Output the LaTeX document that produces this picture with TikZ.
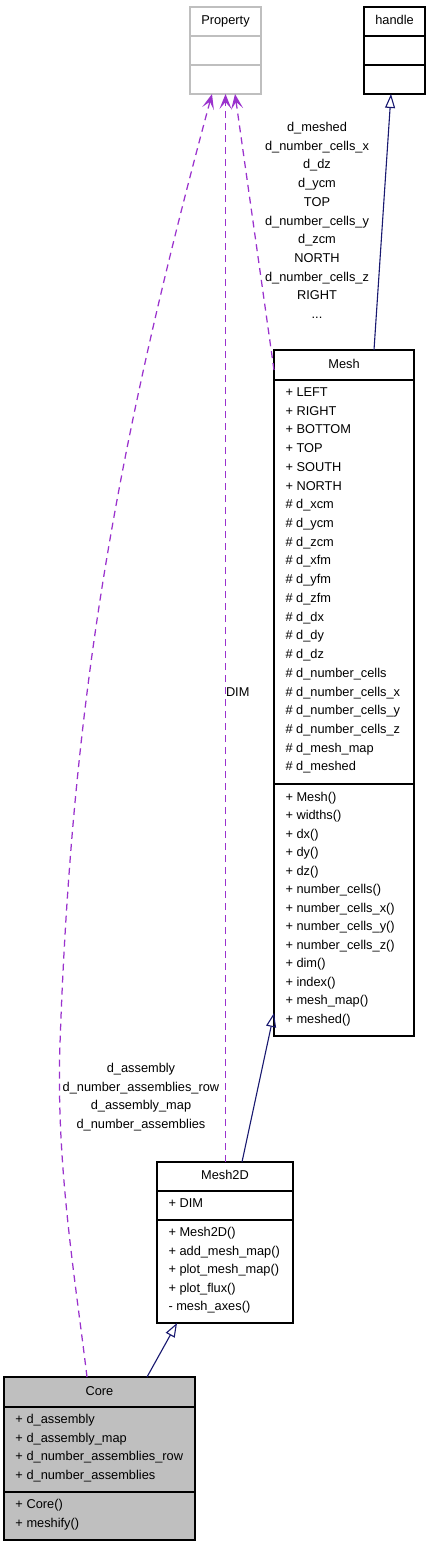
\documentclass[tikz,border=0pt]{standalone}
\usepackage{fontspec}
\setmainfont{Liberation Sans}
\usetikzlibrary{arrows.meta}
\definecolor{depc}{HTML}{9A32CD}
\definecolor{inhc}{HTML}{191970}
\definecolor{lgray}{HTML}{BFBFBF}
\newcommand\dgfont{\fontsize{12.8pt}{15pt}\selectfont}
\begin{document}
\begin{tikzpicture}[x=1pt,y=-1pt,
  sec/.style={draw, line width=1.1pt, inner sep=0pt, outer sep=0pt, anchor=north west},
  txt/.style={font=\dgfont, inner sep=0pt, outer sep=0pt, text=black},
  dep/.style={draw=depc, line width=1.25pt, dash pattern=on 7pt off 5pt,
    -{Stealth[length=15pt,width=12pt,inset=7pt]}},
  inh/.style={draw=inhc, line width=1.1pt, -{Triangle[open,length=14pt,width=10pt]}},
  sepline/.style={line width=1.7pt}]
\useasboundingbox (0,0) rectangle (429,1547);
% ---------- Property ----------
\node[sec, draw=lgray, minimum width=71pt, minimum height=29pt] (propT) at (190,7) {};
\node[sec, draw=lgray, minimum width=71pt, minimum height=29pt] (propA) at (190,36) {};
\node[sec, draw=lgray, minimum width=71pt, minimum height=29pt] (propM) at (190,65) {};
\node[txt, anchor=base] (propN) at (225.5,24.5) {Property};
% ---------- handle ----------
\node[sec, minimum width=61pt, minimum height=29pt] (hT) at (364,7) {};
\node[sec, minimum width=61pt, minimum height=29pt] (hA) at (364,36) {};
\node[sec, minimum width=61pt, minimum height=29pt] (hM) at (364,65) {};
\draw[sepline] (hT.south west) -- (hT.south east);
\draw[sepline] (hA.south west) -- (hA.south east);
\node[txt, anchor=base] (hN) at (394.5,24.5) {handle};
% ---------- Mesh ----------
\node[sec, minimum width=140pt, minimum height=30pt] (meshT) at (274,350) {};
\node[sec, minimum width=140pt, minimum height=404pt] (meshA) at (274,380) {};
\node[sec, minimum width=140pt, minimum height=252pt] (meshM) at (274,784) {};
\draw[sepline] (meshT.south west) -- (meshT.south east);
\draw[sepline] (meshA.south west) -- (meshA.south east);
\node[txt, anchor=base] (meshN) at (344,368) {Mesh};
\foreach \t [count=\i] in {+ LEFT,+ RIGHT,+ BOTTOM,+ TOP,+ SOUTH,+ NORTH,
  \# d\_xcm,\# d\_ycm,\# d\_zcm,\# d\_xfm,\# d\_yfm,\# d\_zfm,\# d\_dx,\# d\_dy,\# d\_dz,
  \# d\_number\_cells,\# d\_number\_cells\_x,\# d\_number\_cells\_y,\# d\_number\_cells\_z,
  \# d\_mesh\_map,\# d\_meshed}
  \node[txt, anchor=base west] (meshA\i) at (285.5,{396.5+18.72*(\i-1)}) {\t};
\foreach \t [count=\i] in {+ Mesh(),+ widths(),+ dx(),+ dy(),+ dz(),+ number\_cells(),
  + number\_cells\_x(),+ number\_cells\_y(),+ number\_cells\_z(),+ dim(),+ index(),
  + mesh\_map(),+ meshed()}
  \node[txt, anchor=base west] (meshM\i) at (285.5,{801+18.5*(\i-1)}) {\t};
% ---------- Mesh2D ----------
\node[sec, minimum width=136pt, minimum height=29pt] (m2T) at (157,1162) {};
\node[sec, minimum width=136pt, minimum height=29pt] (m2A) at (157,1191) {};
\node[sec, minimum width=136pt, minimum height=103pt] (m2M) at (157,1220) {};
\draw[sepline] (m2T.south west) -- (m2T.south east);
\draw[sepline] (m2A.south west) -- (m2A.south east);
\node[txt, anchor=base] (m2N) at (225,1179.5) {Mesh2D};
\node[txt, anchor=base west] (m2A1) at (168.5,1207.5) {+ DIM};
\foreach \t [count=\i] in {+ Mesh2D(),+ add\_mesh\_map(),+ plot\_mesh\_map(),+ plot\_flux(),- mesh\_axes()}
  \node[txt, anchor=base west] (m2M\i) at (168.5,{1236.5+18.6*(\i-1)}) {\t};
% ---------- Core ----------
\node[sec, fill=lgray, minimum width=191pt, minimum height=30pt] (coreT) at (4,1377) {};
\node[sec, fill=lgray, minimum width=191pt, minimum height=85pt] (coreA) at (4,1407) {};
\node[sec, fill=lgray, minimum width=191pt, minimum height=48pt] (coreM) at (4,1492) {};
\draw[sepline] (coreT.south west) -- (coreT.south east);
\draw[sepline] (coreA.south west) -- (coreA.south east);
\node[txt, anchor=base] (coreN) at (99.5,1395.5) {Core};
\foreach \t [count=\i] in {+ d\_assembly,+ d\_assembly\_map,+ d\_number\_assemblies\_row,+ d\_number\_assemblies}
  \node[txt, anchor=base west] (coreA\i) at (15.5,{1423.5+18.7*(\i-1)}) {\t};
\foreach \t [count=\i] in {+ Core(),+ meshify()}
  \node[txt, anchor=base west] (coreM\i) at (15.5,{1508.5+18.7*(\i-1)}) {\t};
% ---------- dependency edges ----------
\draw[dep] ([yshift=-5pt]meshT.west) -- ([xshift=9.5pt]propM.south);
\draw[dep] ([xshift=0.5pt]m2T.north) -- ([xshift=0.5pt]m2T.north |- propM.south);
\draw[dep] ([xshift=-12.5pt]coreT.north) .. controls (75,1277) and (55.8,1164) .. (60,1044)
  .. controls (72,694) and (117.5,444) .. ([xshift=-13.5pt]propM.south);
% labels
\foreach \t [count=\i] in {d\_meshed,d\_number\_cells\_x,d\_dz,d\_ycm,TOP,d\_number\_cells\_y,
  d\_zcm,NORTH,d\_number\_cells\_z,RIGHT}
  \node[txt, anchor=base] (lblM\i) at (317,{131.5+18.7*(\i-1)}) {\t};
\node[txt, anchor=base] (lblMdots) at (317,318.5) {...};
\foreach \t [count=\i] in {d\_assembly,d\_number\_assemblies\_row,d\_assembly\_map,d\_number\_assemblies}
  \node[txt, anchor=base] (lblC\i) at (141,{1072.5+18.7*(\i-1)}) {\t};
\node[txt, anchor=base west] (lblD) at (226,696.5) {DIM};
% ---------- inheritance edges ----------
\draw[inh] ([xshift=30pt]meshT.north) -- ([xshift=-3.5pt]hM.south);
\draw[inh] ([xshift=17pt]m2T.north) -- ([yshift=23pt]meshM.south west);
\draw[inh] ([xshift=47.5pt]coreT.north) -- ([xshift=-48pt]m2M.south);
\end{tikzpicture}
\end{document}
